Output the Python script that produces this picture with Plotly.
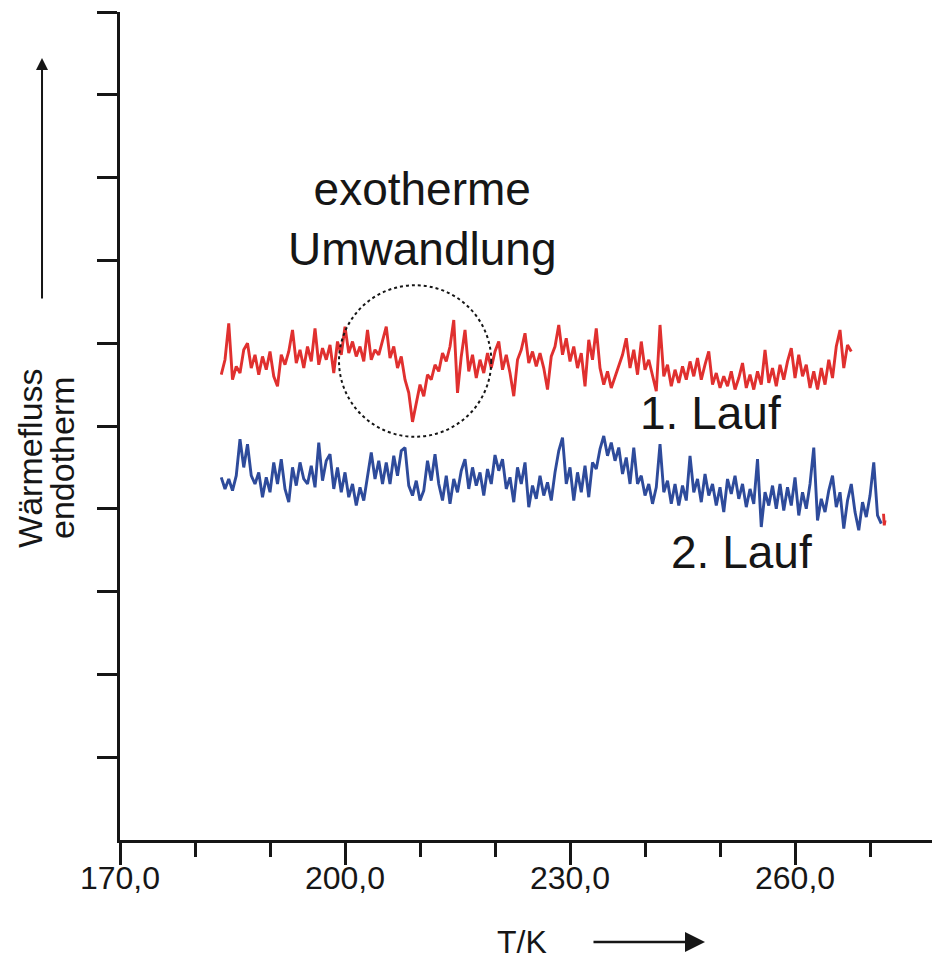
import plotly.graph_objects as go

# ---- data ----
red_T = [
    183.5, 184.0, 184.5, 185.0, 185.5, 186.0, 186.5, 187.0, 187.5, 188.0,
    188.5, 189.0, 189.5, 190.0, 190.5, 191.0, 191.5, 192.0, 192.5, 193.0,
    193.5, 194.0, 194.5, 195.0, 195.5, 196.0, 196.5, 197.0, 197.5, 198.0,
    198.5, 199.0, 199.5, 200.0, 200.5, 201.0, 201.5, 202.0, 202.5, 203.0,
    203.5, 204.0, 204.5, 205.0, 205.5, 206.0, 206.5, 207.0, 207.5, 208.0,
    208.5, 209.0, 209.5, 210.0, 210.5, 211.0, 211.5, 212.0, 212.5, 213.0,
    213.5, 214.0, 214.5, 215.0, 215.5, 216.0, 216.5, 217.0, 217.5, 218.0,
    218.5, 219.0, 219.5, 220.0, 220.5, 221.0, 221.5, 222.0, 222.5, 223.0,
    223.5, 224.0, 224.5, 225.0, 225.5, 226.0, 226.5, 227.0, 227.5, 228.0,
    228.5, 229.0, 229.5, 230.0, 230.5, 231.0, 231.5, 232.0, 232.5, 233.0,
    233.5, 234.0, 234.5, 235.0, 235.5, 236.0, 236.5, 237.0, 237.5, 238.0,
    238.5, 239.0, 239.5, 240.0, 240.5, 241.0, 241.5, 242.0, 242.5, 243.0,
    243.5, 244.0, 244.5, 245.0, 245.5, 246.0, 246.5, 247.0, 247.5, 248.0,
    248.5, 249.0, 249.5, 250.0, 250.5, 251.0, 251.5, 252.0, 252.5, 253.0,
    253.5, 254.0, 254.5, 255.0, 255.5, 256.0, 256.5, 257.0, 257.5, 258.0,
    258.5, 259.0, 259.5, 260.0, 260.5, 261.0, 261.5, 262.0, 262.5, 263.0,
    263.5, 264.0, 264.5, 265.0, 265.5, 266.0, 266.5, 267.0, 267.5,
]
red_flow = [
    5.62, 5.80, 6.24, 5.56, 5.72, 5.64, 5.92, 6.00, 5.70, 5.86,
    5.62, 5.84, 5.68, 5.90, 5.60, 5.48, 5.86, 5.74, 5.90, 6.16,
    5.76, 5.92, 5.70, 5.96, 5.78, 6.18, 5.74, 5.94, 5.80, 5.98,
    5.64, 6.02, 5.86, 6.20, 5.88, 6.02, 5.84, 5.96, 5.78, 6.16,
    5.80, 5.92, 5.86, 6.02, 6.20, 5.82, 5.96, 5.70, 5.84, 5.56,
    5.40, 5.05, 5.28, 5.50, 5.36, 5.62, 5.56, 5.74, 5.66, 5.88,
    5.78, 5.96, 6.28, 5.40, 5.84, 6.16, 5.66, 5.86, 5.58, 5.80,
    5.64, 5.88, 5.70, 5.90, 6.02, 5.68, 5.86, 5.64, 5.36, 5.80,
    5.92, 6.12, 5.76, 5.90, 5.72, 5.88, 5.70, 5.44, 5.84, 5.96,
    6.22, 5.86, 6.06, 5.78, 5.96, 5.70, 5.88, 5.48, 6.04, 5.80,
    6.18, 5.70, 5.50, 5.66, 5.46, 5.60, 5.74, 5.86, 6.06, 5.70,
    5.92, 5.62, 6.02, 5.68, 5.80, 5.60, 5.42, 6.22, 5.60, 5.74,
    5.48, 5.68, 5.52, 5.72, 5.56, 5.78, 5.60, 5.82, 5.56, 5.74,
    5.90, 5.50, 5.64, 5.46, 5.60, 5.48, 5.66, 5.44, 5.58, 5.76,
    5.46, 5.62, 5.44, 5.66, 5.50, 5.92, 5.52, 5.70, 5.48, 5.74,
    5.56, 5.78, 5.94, 5.58, 5.86, 5.60, 5.74, 5.46, 5.66, 5.44,
    5.70, 5.50, 5.80, 5.58, 5.96, 6.16, 5.70, 5.98, 5.90,
]

blue_T = [
    183.5, 184.0, 184.5, 185.0, 185.5, 186.0, 186.5, 187.0, 187.5, 188.0,
    188.5, 189.0, 189.5, 190.0, 190.5, 191.0, 191.5, 192.0, 192.5, 193.0,
    193.5, 194.0, 194.5, 195.0, 195.5, 196.0, 196.5, 197.0, 197.5, 198.0,
    198.5, 199.0, 199.5, 200.0, 200.5, 201.0, 201.5, 202.0, 202.5, 203.0,
    203.5, 204.0, 204.5, 205.0, 205.5, 206.0, 206.5, 207.0, 207.5, 208.0,
    208.5, 209.0, 209.5, 210.0, 210.5, 211.0, 211.5, 212.0, 212.5, 213.0,
    213.5, 214.0, 214.5, 215.0, 215.5, 216.0, 216.5, 217.0, 217.5, 218.0,
    218.5, 219.0, 219.5, 220.0, 220.5, 221.0, 221.5, 222.0, 222.5, 223.0,
    223.5, 224.0, 224.5, 225.0, 225.5, 226.0, 226.5, 227.0, 227.5, 228.0,
    228.5, 229.0, 229.5, 230.0, 230.5, 231.0, 231.5, 232.0, 232.5, 233.0,
    233.5, 234.0, 234.5, 235.0, 235.5, 236.0, 236.5, 237.0, 237.5, 238.0,
    238.5, 239.0, 239.5, 240.0, 240.5, 241.0, 241.5, 242.0, 242.5, 243.0,
    243.5, 244.0, 244.5, 245.0, 245.5, 246.0, 246.5, 247.0, 247.5, 248.0,
    248.5, 249.0, 249.5, 250.0, 250.5, 251.0, 251.5, 252.0, 252.5, 253.0,
    253.5, 254.0, 254.5, 255.0, 255.5, 256.0, 256.5, 257.0, 257.5, 258.0,
    258.5, 259.0, 259.5, 260.0, 260.5, 261.0, 261.5, 262.0, 262.5, 263.0,
    263.5, 264.0, 264.5, 265.0, 265.5, 266.0, 266.5, 267.0, 267.5, 268.0,
    268.5, 269.0, 269.5, 270.0, 270.5, 271.0, 271.5,
]
blue_flow = [
    4.38, 4.24, 4.36, 4.22, 4.40, 4.84, 4.50, 4.78, 4.40, 4.30,
    4.44, 4.14, 4.38, 4.20, 4.56, 4.30, 4.60, 4.24, 4.08, 4.50,
    4.28, 4.56, 4.36, 4.30, 4.52, 4.26, 4.80, 4.34, 4.58, 4.66,
    4.24, 4.50, 4.20, 4.44, 4.14, 4.30, 4.04, 4.26, 4.10, 4.40,
    4.68, 4.36, 4.58, 4.30, 4.56, 4.30, 4.64, 4.40, 4.70, 4.74,
    4.28, 4.16, 4.34, 4.10, 4.22, 4.58, 4.34, 4.66, 4.30, 4.10,
    4.40, 4.06, 4.36, 4.20, 4.46, 4.60, 4.24, 4.50, 4.28, 4.44,
    4.16, 4.48, 4.30, 4.65, 4.46, 4.60, 4.24, 4.38, 4.08, 4.50,
    4.30, 4.56, 4.02, 4.28, 4.12, 4.40, 4.16, 4.32, 4.10, 4.44,
    4.70, 4.86, 4.30, 4.50, 4.10, 4.44, 4.20, 4.52, 4.14, 4.56,
    4.48, 4.72, 4.88, 4.64, 4.80, 4.58, 4.74, 4.42, 4.62, 4.30,
    4.74, 4.30, 4.40, 4.16, 4.30, 4.06, 4.26, 4.78, 4.20, 4.34,
    4.06, 4.30, 4.04, 4.28, 4.10, 4.64, 4.20, 4.36, 4.08, 4.42,
    4.16, 4.30, 4.04, 4.26, 3.96, 4.36, 4.18, 4.40, 4.12, 4.30,
    4.02, 4.24, 4.06, 4.60, 3.78, 4.20, 4.04, 4.28, 4.00, 4.30,
    3.98, 4.26, 4.04, 4.38, 3.92, 4.20, 4.00, 4.30, 4.74, 3.86,
    4.12, 3.96, 4.22, 4.40, 4.02, 4.20, 3.76, 4.10, 4.30, 3.96,
    3.74, 4.08, 3.90, 4.16, 4.56, 3.92, 3.82,
]

# short red stub visible at the very end of the 2nd run
tail_T = [271.8, 271.9, 272.0]
tail_flow = [3.94, 3.80, 3.86]

x_major = [170, 200, 230, 260]
x_major_text = ["170,0", "200,0", "230,0", "260,0"]
x_minor = [180, 190, 210, 220, 240, 250, 270]
y_ticks = [1, 2, 3, 4, 5, 6, 7, 8, 9, 10]

RED = "#E0302F"
BLUE = "#2E4B9B"
INK = "#161616"
FONT = "Liberation Sans, Arial, sans-serif"

fig = go.Figure()
fig.add_trace(go.Scatter(x=red_T, y=red_flow, mode="lines",
                         line=dict(color=RED, width=2.9), name="1. Lauf"))
fig.add_trace(go.Scatter(x=blue_T, y=blue_flow, mode="lines",
                         line=dict(color=BLUE, width=2.9), name="2. Lauf"))
fig.add_trace(go.Scatter(x=tail_T, y=tail_flow, mode="lines",
                         line=dict(color=RED, width=2.9), name="tail"))

# dotted circle around the exothermic dip
fig.add_shape(type="circle", xref="x", yref="y",
              x0=199.2, x1=219.5, y0=4.87, y1=6.70,
              line=dict(color=INK, width=2, dash="dot"))

fig.add_annotation(x=210.3, y=7.5, xref="x", yref="y",
                   text="exotherme<br>Umwandlung", showarrow=False,
                   xanchor="center", yanchor="middle",
                   font=dict(family=FONT, size=46, color=INK))
fig.add_annotation(x=248.7, y=5.16, xref="x", yref="y", text="1. Lauf",
                   showarrow=False, xanchor="center", yanchor="middle",
                   font=dict(family=FONT, size=46, color=INK))
fig.add_annotation(x=252.8, y=3.48, xref="x", yref="y", text="2. Lauf",
                   showarrow=False, xanchor="center", yanchor="middle",
                   font=dict(family=FONT, size=46, color=INK))

# y-axis label (two rotated lines) and upward arrow
fig.add_annotation(x=-0.1098, y=0.4614, xref="paper", yref="paper",
                   text="Wärmefluss", textangle=-90, showarrow=False,
                   xanchor="center", yanchor="middle",
                   font=dict(family=FONT, size=34, color=INK))
fig.add_annotation(x=-0.0707, y=0.4614, xref="paper", yref="paper",
                   text="endotherm", textangle=-90, showarrow=False,
                   xanchor="center", yanchor="middle",
                   font=dict(family=FONT, size=34, color=INK))
fig.add_annotation(x=-0.0951, y=0.9444, xref="paper", yref="paper", text="",
                   showarrow=True, ax=0, ay=242, arrowhead=2, arrowsize=1.2,
                   arrowwidth=2, arrowcolor=INK)

# x-axis label and right arrow
fig.add_annotation(x=0.490, y=-0.1232, xref="paper", yref="paper", text="T/K",
                   showarrow=False, xanchor="center", yanchor="middle",
                   font=dict(family=FONT, size=32, color=INK))
fig.add_annotation(x=0.7134, y=-0.1232, xref="paper", yref="paper", text="",
                   showarrow=True, ax=-113, ay=0, arrowhead=2, arrowsize=1.6,
                   arrowwidth=2.5, arrowcolor=INK)

# the page body adds an 8px offset, so margins are shifted to compensate
fig.update_layout(
    width=932, height=955,
    margin=dict(l=112, r=0, t=4, b=123),
    paper_bgcolor="white", plot_bgcolor="white",
    showlegend=False,
    font=dict(family=FONT, color=INK),
    xaxis=dict(range=[170, 279.33], tickvals=x_major, ticktext=x_major_text,
               ticks="outside", ticklen=22, tickwidth=2.5, tickcolor=INK,
               showline=True, linewidth=3, linecolor=INK,
               showgrid=False, zeroline=False, automargin=False,
               ticklabelstandoff=-14,
               tickfont=dict(family=FONT, size=32, color=INK),
               minor=dict(tickvals=x_minor, ticks="outside", ticklen=14,
                          tickwidth=2.5, tickcolor=INK, showgrid=False)),
    yaxis=dict(range=[0, 10], tickvals=y_ticks, showticklabels=False,
               ticks="outside", ticklen=20, tickwidth=2.5, tickcolor=INK,
               showline=True, linewidth=3, linecolor=INK,
               showgrid=False, zeroline=False, automargin=False),
)

fig.write_html("out.html")
